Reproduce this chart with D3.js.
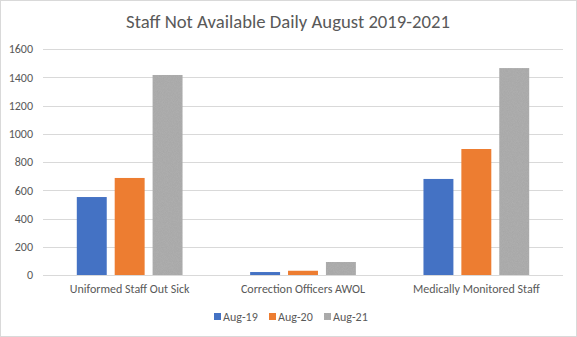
<!DOCTYPE html>
<html>
<head>
<meta charset="utf-8">
<script src="https://cdn.jsdelivr.net/npm/d3@7"></script>
<style>
  html, body { margin: 0; padding: 0; background: #fff; }
  svg { display: block; }
  text { font-family: Carlito, "Open Sans", "Liberation Sans", sans-serif; fill: #595959; }
</style>
</head>
<body>
<script>
// Chart data
const categories = ["Uniformed Staff Out Sick", "Correction Officers AWOL", "Medically Monitored Staff"];
const seriesNames = ["Aug-19", "Aug-20", "Aug-21"];
const aug19 = [552, 21, 680];
const aug20 = [687, 30, 892];
const aug21 = [1416, 92, 1465];
const yTicks = [0, 200, 400, 600, 800, 1000, 1200, 1400, 1600];
const colors = ["#4472c4", "#ed7d31", "#a5a5a5"];

const seriesValues = [aug19, aug20, aug21];
const W = 577, H = 337;
const margin = { left: 43, right: 14, top: 49, bottom: 62 };

const svg = d3.select("body").append("svg").attr("width", W).attr("height", H);

// outer chart frame
svg.append("rect")
  .attr("x", 0.5).attr("y", 0.5).attr("width", W - 1).attr("height", H - 1)
  .attr("fill", "#fff").attr("stroke", "#d9d9d9");

const x0 = d3.scaleBand().domain(categories).range([margin.left, W - margin.right]).paddingInner(0.39).paddingOuter(0.195);
const x1 = d3.scaleBand().domain(seriesNames).range([0, x0.bandwidth()]).paddingInner(0.21);
const y = d3.scaleLinear().domain([0, 1600]).range([H - margin.bottom, margin.top]);

// gridlines
svg.append("g").selectAll("line").data(yTicks).join("line")
  .attr("x1", margin.left).attr("x2", W - margin.right)
  .attr("y1", d => Math.round(y(d)) + 0.5).attr("y2", d => Math.round(y(d)) + 0.5)
  .attr("stroke", "#d9d9d9").attr("stroke-width", 1);

// y axis labels
const yAxis = d3.axisLeft(y).tickValues(yTicks).tickFormat(d3.format("d")).tickSize(0).tickPadding(10);
const gy = svg.append("g").attr("transform", `translate(${margin.left},0)`).call(yAxis);
gy.select(".domain").remove();
gy.selectAll("text").style("font-size", "12px").attr("fill", "#595959");

// grainy texture for the third series
const defs = svg.append("defs");
const filt = defs.append("filter").attr("id", "grain").attr("x", 0).attr("y", 0).attr("width", 1).attr("height", 1);
filt.append("feTurbulence").attr("type", "fractalNoise").attr("baseFrequency", 1.2).attr("numOctaves", 1).attr("seed", 3).attr("result", "noise");
filt.append("feColorMatrix").attr("in", "noise").attr("type", "matrix")
  .attr("values", "0 0 0 0 0.55  0 0 0 0 0.55  0 0 0 0 0.55  0 0 0 0.35 0").attr("result", "dots");
filt.append("feComposite").attr("in", "dots").attr("in2", "SourceGraphic").attr("operator", "atop");

// bars
const groups = svg.append("g").selectAll("g").data(categories).join("g")
  .attr("transform", d => `translate(${x0(d)},0)`);
groups.selectAll("rect")
  .data((c, ci) => seriesNames.map((s, si) => ({ s, si, v: seriesValues[si][ci] })))
  .join("rect")
  .attr("x", d => x1(d.s))
  .attr("width", x1.bandwidth())
  .attr("y", d => y(d.v))
  .attr("height", d => y(0) - y(d.v))
  .attr("fill", d => colors[d.si])
  .attr("filter", d => d.si === 2 ? "url(#grain)" : null);

// category labels
const xAxis = d3.axisBottom(x0).tickSize(0).tickPadding(9);
const gx = svg.append("g").attr("transform", `translate(0,${y(0)})`).call(xAxis);
gx.select(".domain").remove();
gx.selectAll("text").style("font-size", "12px").attr("fill", "#595959");

// title
svg.append("text")
  .attr("x", 288).attr("y", 28)
  .attr("text-anchor", "middle")
  .style("font-size", "18.7px")
  .text("Staff Not Available Daily August 2019-2021");

// legend
const legendX = [214, 269, 324];
const lg = svg.append("g").selectAll("g").data(seriesNames).join("g")
  .attr("transform", (d, i) => `translate(${legendX[i]},${313})`);
lg.append("rect").attr("width", 7).attr("height", 7)
  .attr("fill", (d, i) => colors[i])
  .attr("filter", (d, i) => i === 2 ? "url(#grain)" : null);
lg.append("text").attr("x", 9).attr("y", 7.5)
  .style("font-size", "12px").text(d => d);
</script>
</body>
</html>
